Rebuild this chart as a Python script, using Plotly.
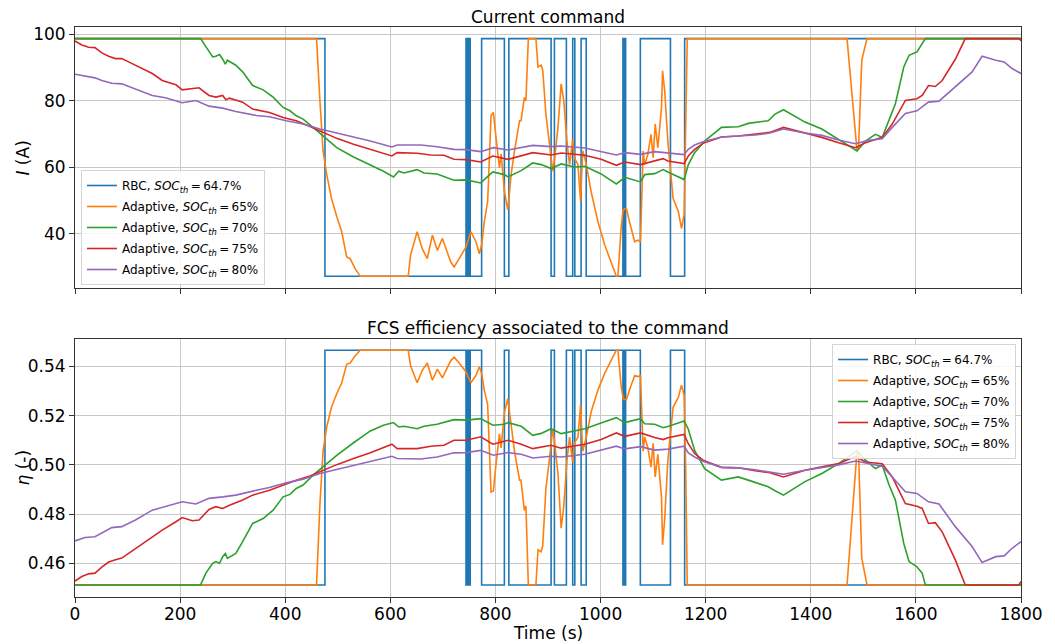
import plotly.graph_objects as go

# ---------------- data ----------------
# RBC: piecewise-constant command, one entry per segment
rbc_start = [0, 475.6, 744, 745.5, 747, 748.5, 750, 752, 773.7, 817, 825.5, 905.9, 912.2,
             935, 947, 951, 963, 972.7, 1042.6, 1044, 1045.5, 1047.7, 1075.7, 1133, 1160]
rbc_end = [475.6, 744, 745.5, 747, 748.5, 750, 752, 773.7, 817, 825.5, 905.9, 912.2, 935,
           947, 951, 963, 972.7, 1042.6, 1044, 1045.5, 1047.7, 1075.7, 1133, 1160, 1800]
rbc_I = [98.7, 27.2, 98.7, 27.2, 98.7, 27.2, 98.7, 27.2, 98.7, 27.2, 98.7, 27.2, 98.7,
         27.2, 98.7, 27.2, 98.7, 27.2, 98.7, 27.2, 98.7, 27.2, 98.7, 27.2, 98.7]
rbc_eta = [0.4512, 0.5466, 0.4512, 0.5466, 0.4512, 0.5466, 0.4512, 0.5466, 0.4512, 0.5466,
           0.4512, 0.5466, 0.4512, 0.5466, 0.4512, 0.5466, 0.4512, 0.5466, 0.4512, 0.5466,
           0.4512, 0.5466, 0.4512, 0.5466, 0.4512]

# Adaptive, SOC_th = 65 %
t_65 = [0, 459.6, 466, 472, 479, 488, 498, 507.5, 517, 523.5, 533, 542.6, 634, 638.4, 651,
        660.7, 670.3, 680, 689.5, 699, 715, 721.4, 731, 743.7, 753.3, 762.9, 769.3, 773.7,
        778.8, 785.2, 791.6, 796, 801.1, 807.6, 810.8, 817.2, 823.5, 830, 836.3, 845.9,
        848.6, 855, 858, 862.6, 877, 881, 887, 890, 896, 903, 909, 912, 919, 925, 930, 936,
        941, 947, 950, 957, 962, 966, 973, 982, 995, 1008, 1020, 1030, 1033, 1039, 1043,
        1049, 1055, 1065, 1071, 1076, 1081, 1084, 1090, 1096, 1100, 1104, 1109, 1116, 1118,
        1122, 1128, 1138, 1148, 1154, 1159, 1162, 1165, 1469, 1488, 1491, 1497, 1507, 1800]
I_65 = [98.7, 98.7, 80.1, 64.9, 57.8, 50.7, 45.2, 40.6, 33.0, 32.5, 29.5, 27.2, 27.2, 33.5,
        40.6, 35.5, 32.5, 39.6, 35.0, 38.6, 31.5, 30.0, 32.5, 36.0, 40.6, 37.6, 34.0, 36.6,
        43.6, 49.7, 75.5, 76.5, 69.0, 59.8, 64.0, 52.7, 47.2, 58.0, 65.0, 74.0,
        74.0, 81.0, 80.0, 98.7, 98.7, 90.2, 90.7, 89.2, 76.0, 66.9, 58.8, 61.9, 72.0, 85.1,
        80.1, 67.9, 60.8, 68.4, 62.9, 60.8, 49.7, 65.0, 60.8, 52.7, 43.6, 36.6, 31.5, 27.2,
        27.2, 41.6, 47.2, 47.7, 43.6, 37.6, 38.1, 37.6, 64.9, 60.8, 63.9, 69.9, 62.9, 73.0,
        65.9, 78.0, 89.0, 83.1, 67.9, 50.7, 46.7, 41.6, 45.7, 69.9, 98.7, 98.7, 64.9, 66.0,
        92.2, 98.7, 98.7]
eta_65 = [0.4512, 0.4512, 0.4840, 0.5056, 0.5154, 0.5234, 0.5289, 0.5334, 0.5409, 0.5414,
          0.5443, 0.5466, 0.5466, 0.5404, 0.5334, 0.5384, 0.5414, 0.5344, 0.5389, 0.5354,
          0.5424, 0.5438, 0.5414, 0.5379, 0.5334, 0.5363, 0.5399, 0.5373, 0.5304, 0.5244,
          0.4890, 0.4894, 0.5003, 0.5126, 0.5069, 0.5215, 0.5269, 0.5151, 0.5055, 0.4938,
          0.4938, 0.4815, 0.4833, 0.4512, 0.4512, 0.4655, 0.4647, 0.4672, 0.4903, 0.5030,
          0.5144, 0.5102, 0.4964, 0.4743, 0.4831, 0.5017, 0.5113, 0.5011, 0.5088, 0.5113,
          0.5244, 0.5055, 0.5113, 0.5215, 0.5304, 0.5373, 0.5424, 0.5466, 0.5466, 0.5324,
          0.5269, 0.5264, 0.5304, 0.5363, 0.5359, 0.5363, 0.5056, 0.5113, 0.5070, 0.4991,
          0.5088, 0.4951, 0.5043, 0.4868, 0.4675, 0.4778, 0.5017, 0.5234, 0.5274, 0.5324,
          0.5284, 0.4991, 0.4512, 0.4512, 0.5056, 0.5042, 0.4621, 0.4512, 0.4512]

# Adaptive, SOC_th = 70 %
t_70 = [0, 239, 249, 262, 268, 275, 281, 286, 290, 306, 319, 338, 358, 377, 396, 409, 421,
        434, 453, 472, 498, 530, 562, 587, 606, 616, 626, 651, 664, 689, 721, 744, 772, 795,
        817, 824, 849, 871, 887, 906, 925, 950, 970, 1001, 1030, 1046, 1076, 1084, 1103,
        1119, 1128, 1159, 1167, 1179, 1198, 1230, 1262, 1281, 1319, 1332, 1348, 1389, 1421,
        1453, 1488, 1504, 1523, 1536, 1549, 1561, 1577, 1587, 1602, 1612, 1618, 1800]
I_70 = [98.7, 98.7, 96.3, 93.2, 93.4, 93.9, 92.5, 91.0, 92.2, 90.7, 88.7, 84.6, 83.3, 81.1,
        78.0, 77.0, 75.5, 74.5, 72.0, 69.4, 65.9, 63.1, 60.8, 58.8, 57.1, 58.8, 58.3, 59.3,
        58.3, 58.0, 56.1, 56.2, 55.3, 58.6, 57.8, 57.1, 59.0, 61.3, 60.8, 59.6, 61.0, 60.1,
        60.3, 58.0, 55.0, 57.0, 55.6, 57.8, 58.1, 59.3, 58.6, 56.3, 60.8, 64.4, 67.9, 72.0,
        72.2, 73.2, 74.0, 76.0, 77.3, 73.6, 71.5, 68.4, 64.9, 67.9, 69.9, 69.0, 74.5, 79.1,
        90.2, 93.7, 94.7, 97.3, 98.7, 98.7]
eta_70 = [0.4512, 0.4512, 0.4560, 0.4600, 0.4607, 0.4600, 0.4627, 0.4640, 0.4620, 0.4640,
          0.4688, 0.4762, 0.4782, 0.4816, 0.4870, 0.4880, 0.4904, 0.4918, 0.4958, 0.4992,
          0.5039, 0.5090, 0.5138, 0.5161, 0.5172, 0.5154, 0.5157, 0.5147, 0.5157, 0.5165,
          0.5184, 0.5182, 0.5188, 0.5161, 0.5165, 0.5172, 0.5157, 0.5120, 0.5128, 0.5147,
          0.5127, 0.5138, 0.5147, 0.5170, 0.5192, 0.5172, 0.5188, 0.5167, 0.5165, 0.5151,
          0.5156, 0.5178, 0.5145, 0.5059, 0.4985, 0.4938, 0.4951, 0.4938, 0.4911, 0.4895,
          0.4877, 0.4932, 0.4965, 0.5005, 0.5057, 0.5019, 0.4985, 0.4999, 0.4918, 0.4857,
          0.4680, 0.4607, 0.4586, 0.4560, 0.4512, 0.4512]

# Adaptive, SOC_th = 75 %
t_75 = [0, 13, 26, 38, 51, 64, 77, 89, 102, 128, 147, 166, 192, 204, 223, 236, 255, 268,
        281, 287, 294, 319, 338, 370, 396, 421, 447, 472, 498, 530, 562, 603, 613, 651, 677,
        702, 721, 744, 772, 795, 824, 849, 871, 906, 925, 970, 1001, 1030, 1046, 1076, 1103,
        1119, 1128, 1159, 1167, 1179, 1195, 1230, 1262, 1294, 1322, 1348, 1389, 1421, 1453,
        1485, 1504, 1536, 1555, 1580, 1602, 1612, 1624, 1637, 1650, 1675, 1694, 1796, 1800]
I_75 = [98.0, 96.8, 96.1, 96.0, 94.4, 93.4, 92.7, 92.7, 91.7, 89.7, 88.2, 86.1, 84.8, 83.3,
        83.6, 83.9, 81.6, 81.1, 81.6, 80.3, 80.8, 79.6, 77.5, 76.5, 75.0, 74.0, 72.3, 70.5,
        68.7, 66.9, 65.4, 63.4, 64.4, 64.2, 63.7, 63.6, 62.4, 62.3, 61.6, 63.4, 62.4, 63.4,
        64.4, 63.7, 64.3, 63.6, 62.4, 60.6, 61.6, 60.8, 62.0, 62.6, 61.9, 61.1, 63.4, 65.4,
        67.2, 69.1, 69.4, 69.9, 70.5, 72.0, 70.3, 69.0, 67.4, 65.9, 67.4, 69.0, 73.0, 80.1,
        80.6, 81.6, 84.6, 84.3, 86.1, 92.5, 98.7, 98.7, 98.1]
eta_75 = [0.4528, 0.4546, 0.4557, 0.4560, 0.4584, 0.4605, 0.4614, 0.4621, 0.4640, 0.4680,
          0.4708, 0.4735, 0.4769, 0.4786, 0.4773, 0.4776, 0.4819, 0.4830, 0.4823, 0.4830,
          0.4836, 0.4857, 0.4877, 0.4897, 0.4918, 0.4938, 0.4955, 0.4978, 0.5001, 0.5026,
          0.5049, 0.5084, 0.5066, 0.5066, 0.5076, 0.5080, 0.5100, 0.5100, 0.5114, 0.5084,
          0.5100, 0.5084, 0.5066, 0.5080, 0.5068, 0.5084, 0.5103, 0.5130, 0.5116, 0.5130,
          0.5111, 0.5103, 0.5110, 0.5124, 0.5086, 0.5046, 0.5019, 0.4990, 0.4988, 0.4976,
          0.4968, 0.4951, 0.4978, 0.4992, 0.5005, 0.5035, 0.5012, 0.5005, 0.4951, 0.4843,
          0.4832, 0.4823, 0.4762, 0.4765, 0.4728, 0.4614, 0.4512, 0.4512, 0.4526]

# Adaptive, SOC_th = 80 %
t_80 = [0, 19, 38, 51, 70, 89, 115, 147, 172, 204, 230, 255, 281, 306, 345, 370, 402, 434,
        466, 498, 530, 562, 603, 613, 658, 689, 721, 744, 772, 796, 824, 849, 871, 906, 925,
        970, 1001, 1030, 1046, 1076, 1103, 1128, 1159, 1167, 1179, 1195, 1230, 1262, 1294,
        1322, 1348, 1389, 1421, 1453, 1485, 1510, 1536, 1555, 1580, 1602, 1624, 1644, 1675,
        1707, 1726, 1752, 1768, 1783, 1800]
I_80 = [88.0, 87.4, 86.9, 86.1, 85.3, 85.1, 83.6, 81.6, 80.9, 79.4, 80.1, 78.4, 77.8, 76.8,
        75.6, 75.2, 74.0, 73.0, 71.5, 70.3, 69.1, 67.9, 66.1, 66.7, 66.7, 66.2, 65.4, 65.3,
        64.7, 65.9, 65.2, 65.9, 66.6, 66.2, 66.4, 65.8, 64.7, 63.7, 64.4, 63.9, 64.7, 64.4,
        63.8, 65.4, 66.7, 67.7, 69.1, 69.4, 69.7, 70.3, 71.5, 70.3, 69.6, 68.2, 67.1, 68.1,
        68.6, 72.0, 76.2, 77.0, 79.6, 79.9, 84.1, 88.7, 93.4, 92.2, 91.7, 89.7, 88.2]
eta_80 = [0.4691, 0.4705, 0.4708, 0.4722, 0.4745, 0.4749, 0.4776, 0.4816, 0.4830, 0.4850,
          0.4841, 0.4864, 0.4870, 0.4877, 0.4897, 0.4908, 0.4927, 0.4942, 0.4965, 0.4981,
          0.4999, 0.5016, 0.5035, 0.5026, 0.5024, 0.5032, 0.5049, 0.5050, 0.5059, 0.5039,
          0.5050, 0.5043, 0.5028, 0.5035, 0.5032, 0.5043, 0.5059, 0.5076, 0.5065, 0.5074,
          0.5060, 0.5064, 0.5076, 0.5049, 0.5032, 0.5015, 0.4990, 0.4988, 0.4980, 0.4970,
          0.4962, 0.4978, 0.4989, 0.5000, 0.5016, 0.5005, 0.4995, 0.4951, 0.4891, 0.4884,
          0.4850, 0.4841, 0.4749, 0.4668, 0.4603, 0.4627, 0.4630, 0.4661, 0.4688]

x_ticks = [0, 200, 400, 600, 800, 1000, 1200, 1400, 1600, 1800]
I_ticks = [40, 60, 80, 100]
eta_ticks = [0.46, 0.48, 0.50, 0.52, 0.54]

# ---------------- figure ----------------
FONT = "DejaVu Sans"
TS = "\u2009"
SUB = f"<i>SOC</i><sub><i>th</i></sub>{TS}={TS}"
names = [f"RBC, {SUB}64.7%", f"Adaptive, {SUB}65%", f"Adaptive, {SUB}70%",
         f"Adaptive, {SUB}75%", f"Adaptive, {SUB}80%"]
colors = ["#1f77b4", "#ff7f0e", "#2ca02c", "#d62728", "#9467bd"]

# expand RBC segments into step vertices
rbc_t, rbc_Iv, rbc_ev = [], [], []
for s, e, iv, ev in zip(rbc_start, rbc_end, rbc_I, rbc_eta):
    rbc_t += [s, e]
    rbc_Iv += [iv, iv]
    rbc_ev += [ev, ev]

series = [
    (rbc_t, rbc_Iv, rbc_ev),
    (t_65, I_65, eta_65),
    (t_70, I_70, eta_70),
    (t_75, I_75, eta_75),
    (t_80, I_80, eta_80),
]

fig = go.Figure()
for k, (t, cur, eta) in enumerate(series):
    fig.add_trace(go.Scatter(x=t, y=cur, mode="lines", name=names[k],
                             line=dict(color=colors[k], width=1.6),
                             xaxis="x", yaxis="y", legend="legend",
                             legendgroup=f"cur{k}"))
for k, (t, cur, eta) in enumerate(series):
    fig.add_trace(go.Scatter(x=t, y=eta, mode="lines", name=names[k],
                             line=dict(color=colors[k], width=1.6),
                             xaxis="x2", yaxis="y2", legend="legend2",
                             legendgroup=f"eta{k}"))

axis_common = dict(
    showline=True, linecolor="#333333", linewidth=1, mirror=True,
    ticks="outside", ticklen=5, tickwidth=1, tickcolor="#333333",
    showgrid=True, gridcolor="#c8c8c8", gridwidth=1, zeroline=False,
    tickfont=dict(family=FONT, size=17, color="black"),
)

legend_common = dict(
    bgcolor="rgba(255,255,255,0.85)", bordercolor="#d5d5d5", borderwidth=1,
    font=dict(family=FONT, size=12, color="black"),
    tracegroupgap=2, itemwidth=30,
)

# paper-coordinate helpers for a 1055x644 canvas with the margins below
L, R, T, B = 75, 24, 27, 47
PW, PH = 1055 - L - R, 644 - T - B


def px_x(x):
    return (x - L) / PW


def px_y(y):
    return (644 - B - y) / PH


label_font = dict(family=FONT, size=17, color="black")

fig.update_layout(
    width=1055, height=644,
    margin=dict(l=L, r=R, t=T, b=B),
    plot_bgcolor="white", paper_bgcolor="white",
    font=dict(family=FONT, color="black"),
    showlegend=True,
    xaxis=dict(domain=[0, 1], range=[0, 1800], tickvals=x_ticks, showticklabels=False,
               anchor="y", **axis_common),
    yaxis=dict(domain=[0.5416, 1.0], range=[23.6, 102.2], tickvals=I_ticks, anchor="x",
               **axis_common),
    xaxis2=dict(domain=[0, 1], range=[0, 1800], tickvals=x_ticks, anchor="y2",
                ticklabelstandoff=-3, **axis_common),
    yaxis2=dict(domain=[0.0, 0.4532], range=[0.4463, 0.5513], tickvals=eta_ticks,
                tickformat=".2f", anchor="x2", **axis_common),
    legend=dict(x=px_x(81), y=px_y(285), xanchor="left", yanchor="bottom", **legend_common),
    legend2=dict(x=px_x(1026), y=px_y(344), xanchor="right", yanchor="top", **legend_common),
    annotations=[
        dict(text="Current command", x=0.5, y=px_y(17), xref="paper", yref="paper",
             xanchor="center", yanchor="middle", showarrow=False, font=label_font),
        dict(text="FCS efficiency associated to the command", x=0.5, y=px_y(328),
             xref="paper", yref="paper", xanchor="center", yanchor="middle",
             showarrow=False, font=label_font),
        dict(text="<i>I</i> (A)", x=px_x(22), y=px_y(158), xref="paper", yref="paper",
             xanchor="center", yanchor="middle", textangle=-90, showarrow=False,
             font=label_font),
        dict(text="<i>η</i> (-)", x=px_x(22), y=px_y(468), xref="paper", yref="paper",
             xanchor="center", yanchor="middle", textangle=-90, showarrow=False,
             font=label_font),
        dict(text="Time (s)", x=0.5, y=px_y(633), xref="paper", yref="paper",
             xanchor="center", yanchor="middle", showarrow=False, font=label_font),
    ],
)

fig.write_html("out.html")
